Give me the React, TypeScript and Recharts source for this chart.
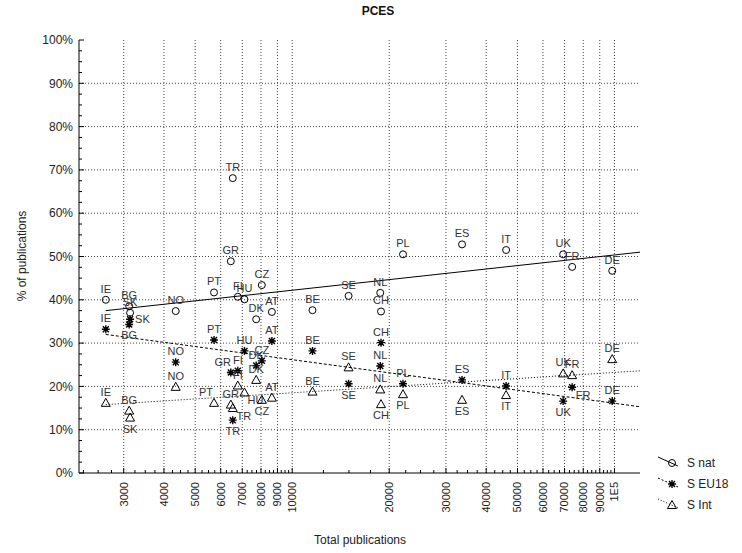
import { ReferenceLine, Scatter, ScatterChart, XAxis, YAxis } from "recharts";

// country codes and total publications (x), shares in % (y)
const countries = ["IE", "BG", "SK", "NO", "PT", "GR", "TR", "FI", "HU", "DK", "CZ", "AT", "BE", "SE", "NL", "CH", "PL", "ES", "IT", "UK", "FR", "DE"];
const totalPublications = [2640, 3120, 3140, 4350, 5720, 6450, 6540, 6780, 7110, 7730, 8050, 8650, 11560, 14960, 18760, 18860, 22070, 33650, 46100, 69300, 73900, 98400];
const sNat = [40.0, 38.5, 37.0, 37.4, 41.7, 48.9, 68.1, 40.7, 40.1, 35.5, 43.4, 37.2, 37.6, 40.9, 41.6, 37.3, 50.5, 52.8, 51.5, 50.5, 47.6, 46.7];
const sEu18 = [33.2, 34.3, 35.5, 25.6, 30.7, 23.2, 12.2, 23.6, 28.2, 24.8, 25.9, 30.5, 28.2, 20.6, 24.7, 30.1, 20.6, 21.5, 20.1, 16.6, 19.8, 16.6];
const sInt = [16.2, 14.4, 12.8, 19.9, 16.2, 15.8, 15.0, 20.2, 18.6, 21.5, 16.9, 17.4, 18.8, 24.4, 19.3, 15.9, 18.2, 16.9, 18.0, 23.0, 22.6, 26.3];

// fitted lines (at both ends)
const fitX = [2640, 120000];
const fitNat = [37.5, 51.0];
const fitEu18 = [32.0, 15.3];
const fitInt = [15.8, 23.6];

const xTicks = [3000, 4000, 5000, 6000, 7000, 8000, 9000, 10000, 20000, 30000, 40000, 50000, 60000, 70000, 80000, 90000, 100000];
const xTickLabels = ["3000", "4000", "5000", "6000", "7000", "8000", "9000", "10000", "20000", "30000", "40000", "50000", "60000", "70000", "80000", "90000", "1E5"];
const yTicks = [0, 10, 20, 30, 40, 50, 60, 70, 80, 90, 100];
const yTickLabels = ["0%", "10%", "20%", "30%", "40%", "50%", "60%", "70%", "80%", "90%", "100%"];

const X_DOMAIN: [number, number] = [2180, 120000];
const FONT = "Arial, 'Liberation Sans', sans-serif";

const xMinor: number[] = [];
for (const unit of [1000, 10000]) {
  for (let k = 1; k < 10; k++) {
    for (const q of [0.25, 0.5, 0.75]) {
      const v = (k + q) * unit;
      if (v > X_DOMAIN[0] && v < X_DOMAIN[1]) xMinor.push(v);
    }
  }
}
const xAllTicks = [...xTicks, ...xMinor].sort((a, b) => a - b);
const yAllTicks: number[] = [];
for (let v = 0; v <= 100; v += 2.5) yAllTicks.push(v);

const rows = (ys: number[]) =>
  countries.map((c, i) => ({ country: c, x: totalPublications[i], y: ys[i] }));
const fitRows = (ys: number[]) => fitX.map((x, i) => ({ x, y: ys[i] }));

// where each point's label sits (default: above)
const natLabelPos: Record<string, string> = {};
const eu18LabelPos: Record<string, string> = {
  BG: "bottom", SK: "right", GR: "topLeft", TR: "bottom", SE: "bottom", UK: "bottom", FR: "bottomRight",
};
const intLabelPos: Record<string, string> = {
  SK: "bottom", HU: "bottomRight", TR: "bottomRight", CZ: "bottom", CH: "bottom", PL: "bottom", ES: "bottom", IT: "bottom", PT: "topLeft",
};
const OFFSETS: Record<string, { dx: number; dy: number; anchor: string }> = {
  top: { dx: 0, dy: -7, anchor: "middle" },
  topLeft: { dx: -8, dy: -7, anchor: "middle" },
  bottom: { dx: 0, dy: 15, anchor: "middle" },
  bottomRight: { dx: 11, dy: 12, anchor: "middle" },
  right: { dx: 5, dy: 4, anchor: "start" },
};

function Marker({ kind, cx, cy }: { kind: string; cx: number; cy: number }) {
  if (kind === "circle") {
    return <circle cx={cx} cy={cy} r={3.5} fill="none" stroke="#000" strokeWidth={1} />;
  }
  if (kind === "star") {
    const d = `M${cx - 4} ${cy}H${cx + 4}M${cx} ${cy - 4}V${cy + 4}M${cx - 3} ${cy - 3}L${cx + 3} ${cy + 3}M${cx - 3} ${cy + 3}L${cx + 3} ${cy - 3}`;
    return <path d={d} stroke="#000" strokeWidth={1.4} fill="none" />;
  }
  return (
    <polygon
      points={`${cx},${cy - 4.5} ${cx + 4.5},${cy + 3.5} ${cx - 4.5},${cy + 3.5}`}
      fill="none"
      stroke="#000"
      strokeWidth={1}
    />
  );
}

const pointShape = (kind: string, placement: Record<string, string>) => (props: any) => {
  const { cx, cy, payload } = props;
  const o = OFFSETS[placement[payload.country] ?? "top"];
  return (
    <g>
      <Marker kind={kind} cx={cx} cy={cy} />
      <text x={cx + o.dx} y={cy + o.dy} textAnchor={o.anchor} fontSize={11} fill="#333" fontFamily={FONT}>
        {payload.country}
      </text>
    </g>
  );
};

const XTick = ({ x, y, payload, side }: any) => {
  const idx = xTicks.indexOf(payload.value);
  const len = idx >= 0 ? 5 : 3;
  const dir = side === "top" ? 1 : -1;
  return (
    <g>
      <line x1={x} x2={x} y1={y} y2={y + dir * len} stroke="#000" />
      {side === "bottom" && idx >= 0 && (
        <text
          transform={`translate(${x},${y + 9}) rotate(-90)`}
          textAnchor="end"
          dy="0.35em"
          fontSize={11}
          fill="#222"
          fontFamily={FONT}
        >
          {xTickLabels[idx]}
        </text>
      )}
    </g>
  );
};

const YTick = ({ x, y, payload, side }: any) => {
  const idx = yTicks.indexOf(payload.value);
  const len = idx >= 0 ? 5 : 3;
  const dir = side === "left" ? 1 : -1;
  return (
    <g>
      <line x1={x} x2={x + dir * len} y1={y} y2={y} stroke="#000" />
      {side === "left" && idx >= 0 && (
        <text x={x - 6} y={y} dy="0.35em" textAnchor="end" fontSize={12} fill="#222" fontFamily={FONT}>
          {yTickLabels[idx]}
        </text>
      )}
    </g>
  );
};

function LegendBox() {
  const items = [
    { name: "S nat", kind: "circle", dash: undefined },
    { name: "S EU18", kind: "star", dash: "2 2" },
    { name: "S Int", kind: "triangle", dash: "1 2" },
  ];
  return (
    <svg width={100} height={70} style={{ position: "absolute", left: 645, top: 450 }}>
      {items.map((it, i) => {
        const cy = 13 + i * 21;
        return (
          <g key={it.name}>
            <line x1={13} y1={cy - 6} x2={33} y2={cy + 3} stroke="#000" strokeDasharray={it.dash} />
            <Marker kind={it.kind} cx={27} cy={cy} />
            <text x={42} y={cy + 4} fontSize={12} fill="#222" fontFamily={FONT}>
              {it.name}
            </text>
          </g>
        );
      })}
    </svg>
  );
}

export default function App() {
  return (
    <div style={{ position: "absolute", left: 0, top: 0, width: 742, height: 553, background: "#fff", fontFamily: FONT }}>
      <div
        style={{
          position: "absolute",
          left: 378,
          top: 4,
          transform: "translateX(-50%)",
          fontWeight: "bold",
          fontSize: 12,
          color: "#111",
          whiteSpace: "nowrap",
        }}
      >
        PCES
      </div>
      <ScatterChart width={742} height={553} margin={{ top: 40, right: 102, bottom: 0, left: 0 }}>
        <XAxis
          xAxisId="b"
          type="number"
          dataKey="x"
          scale="log"
          domain={X_DOMAIN}
          allowDataOverflow
          ticks={xAllTicks}
          interval={0}
          tickSize={0}
          tickMargin={0}
          tickLine={false}
          axisLine={{ stroke: "#000" }}
          height={80}
          tick={(p: any) => <XTick {...p} side="bottom" />}
        />
        <XAxis
          xAxisId="t"
          orientation="top"
          type="number"
          scale="log"
          domain={X_DOMAIN}
          allowDataOverflow
          ticks={xAllTicks}
          interval={0}
          tickSize={0}
          tickMargin={0}
          tickLine={false}
          axisLine={{ stroke: "#000" }}
          height={0}
          tick={(p: any) => <XTick {...p} side="top" />}
        />
        <YAxis
          yAxisId="l"
          type="number"
          dataKey="y"
          domain={[0, 100]}
          allowDataOverflow
          ticks={yAllTicks}
          interval={0}
          tickSize={0}
          tickMargin={0}
          tickLine={false}
          axisLine={{ stroke: "#000" }}
          width={79}
          tick={(p: any) => <YTick {...p} side="left" />}
        />
        <YAxis
          yAxisId="r"
          orientation="right"
          type="number"
          domain={[0, 100]}
          allowDataOverflow
          ticks={yAllTicks}
          interval={0}
          tickSize={0}
          tickMargin={0}
          tickLine={false}
          axisLine={{ stroke: "#000" }}
          width={0}
          tick={(p: any) => <YTick {...p} side="right" />}
        />
        {xTicks.map((v) => (
          <ReferenceLine key={`gx${v}`} xAxisId="b" yAxisId="l" x={v} stroke="#444" strokeDasharray="1 2" />
        ))}
        {yTicks.slice(1, -1).map((v) => (
          <ReferenceLine key={`gy${v}`} xAxisId="b" yAxisId="l" y={v} stroke="#444" strokeDasharray="1 2" />
        ))}
        <Scatter xAxisId="b" yAxisId="l" data={fitRows(fitNat)} line={{ stroke: "#000", strokeWidth: 1 }} shape={() => <g />} isAnimationActive={false} />
        <Scatter xAxisId="b" yAxisId="l" data={fitRows(fitEu18)} line={{ stroke: "#000", strokeWidth: 1, strokeDasharray: "3 2" }} shape={() => <g />} isAnimationActive={false} />
        <Scatter xAxisId="b" yAxisId="l" data={fitRows(fitInt)} line={{ stroke: "#000", strokeWidth: 1, strokeDasharray: "1 2" }} shape={() => <g />} isAnimationActive={false} />
        <Scatter xAxisId="b" yAxisId="l" name="S nat" data={rows(sNat)} shape={pointShape("circle", natLabelPos)} isAnimationActive={false} />
        <Scatter xAxisId="b" yAxisId="l" name="S EU18" data={rows(sEu18)} shape={pointShape("star", eu18LabelPos)} isAnimationActive={false} />
        <Scatter xAxisId="b" yAxisId="l" name="S Int" data={rows(sInt)} shape={pointShape("triangle", intLabelPos)} isAnimationActive={false} />
      </ScatterChart>
      <div
        style={{
          position: "absolute",
          left: 22,
          top: 256,
          transform: "translate(-50%, -50%) rotate(-90deg)",
          fontSize: 12,
          color: "#222",
          whiteSpace: "nowrap",
        }}
      >
        % of publications
      </div>
      <div style={{ position: "absolute", left: 0, width: 720, top: 533, textAlign: "center", fontSize: 12, color: "#222" }}>
        Total publications
      </div>
      <LegendBox />
    </div>
  );
}
